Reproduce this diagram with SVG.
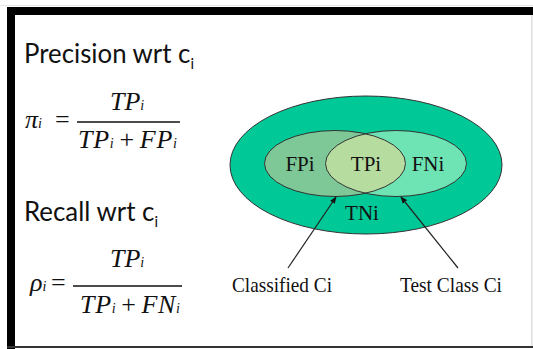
<svg xmlns="http://www.w3.org/2000/svg" width="533" height="349" viewBox="0 0 533 349">
<style>
.head{font-family:Lato,"Open Sans","Liberation Sans",sans-serif;font-size:26px;fill:#111}
.sub{font-size:15px}
.math{font-family:"Liberation Serif","Times New Roman",serif;font-style:italic;font-size:26px;fill:#111}
.msub{font-size:14px}
.op{font-family:"Liberation Serif",serif;font-style:normal;font-size:26px;fill:#111}
.lbl{font-family:"Liberation Serif","Times New Roman",serif;font-size:21px;fill:#111}
.ell{stroke:#333;stroke-width:1}
.arrow{stroke:#222;stroke-width:1.2;fill:none;marker-end:url(#ah)}
</style>
<defs>
<marker id="ah" viewBox="0 0 10 10" refX="9" refY="5" markerWidth="7" markerHeight="7" markerUnits="userSpaceOnUse" orient="auto">
<path d="M0,1 L10,5 L0,9 Z" fill="#111"/>
</marker>
<clipPath id="clipR"><ellipse cx="396" cy="163.5" rx="70.5" ry="33"/></clipPath>
</defs>
<rect width="533" height="349" fill="#fff"/>
<g id="frame">
<line x1="0" y1="5.5" x2="533" y2="5.5" stroke="#e4e4e4" stroke-width="1"/>
<rect x="7" y="7" width="526" height="8" fill="#000"/>
<rect x="7" y="7" width="8" height="342" fill="#000"/>
<rect x="7" y="346" width="526" height="2" fill="#333"/>
<rect x="531" y="15" width="1.5" height="331" fill="#ddd"/>
</g>
<g id="precision">
<text class="head" x="24" y="63" textLength="170" lengthAdjust="spacingAndGlyphs">Precision wrt c<tspan class="sub" dy="6">i</tspan></text>
<text class="math" x="25" y="128" font-size="28">π<tspan class="msub">i</tspan></text>
<text class="op" x="55" y="128">=</text>
<text class="math" x="110" y="110">TP<tspan class="msub">i</tspan></text>
<line x1="77" y1="122" x2="180" y2="122" stroke="#111" stroke-width="1.3"/>
<text class="math" x="78" y="148" textLength="99" lengthAdjust="spacing">TP<tspan class="msub">i</tspan><tspan class="op" dx="5">+</tspan><tspan dx="5">FP</tspan><tspan class="msub">i</tspan></text>
</g>
<g id="recall">
<text class="head" x="24" y="221" textLength="134" lengthAdjust="spacingAndGlyphs">Recall wrt c<tspan class="sub" dy="6">i</tspan></text>
<text class="math" x="30" y="291">ρ<tspan class="msub">i</tspan></text>
<text class="op" x="51" y="291">=</text>
<text class="math" x="110" y="267">TP<tspan class="msub">i</tspan></text>
<line x1="73" y1="286" x2="182" y2="286" stroke="#111" stroke-width="1.3"/>
<text class="math" x="80" y="313" textLength="100" lengthAdjust="spacing">TP<tspan class="msub">i</tspan><tspan class="op" dx="5">+</tspan><tspan dx="5">FN</tspan><tspan class="msub">i</tspan></text>
</g>
<g id="tn">
<ellipse class="ell" cx="366" cy="165" rx="136" ry="69" fill="#00c896"/>
<text class="lbl" x="362" y="220" text-anchor="middle">TNi</text>
</g>
<g id="fp">
<ellipse cx="335" cy="163.5" rx="70.5" ry="33" fill="#7dc896"/>
<text class="lbl" x="300" y="171" text-anchor="middle">FPi</text>
</g>
<g id="fn">
<ellipse cx="396" cy="163.5" rx="70.5" ry="33" fill="#6ee4b4"/>
<text class="lbl" x="428" y="171" text-anchor="middle">FNi</text>
</g>
<g id="tp">
<ellipse cx="335" cy="163.5" rx="70.5" ry="33" fill="#b6dca0" clip-path="url(#clipR)"/>
<ellipse class="ell" cx="335" cy="163.5" rx="70.5" ry="33" fill="none"/>
<ellipse class="ell" cx="396" cy="163.5" rx="70.5" ry="33" fill="none"/>
<text class="lbl" x="366" y="171" text-anchor="middle">TPi</text>
</g>
<g id="classified">
<text class="lbl" x="232" y="292" textLength="100" lengthAdjust="spacingAndGlyphs">Classified Ci</text>
</g>
<g id="testclass">
<text class="lbl" x="400" y="292" textLength="102" lengthAdjust="spacingAndGlyphs">Test Class Ci</text>
</g>
<g id="connectors">
<line class="arrow" x1="288" y1="268" x2="336" y2="197"/>
<line class="arrow" x1="458" y1="268" x2="401" y2="197"/>
</g>
</svg>
